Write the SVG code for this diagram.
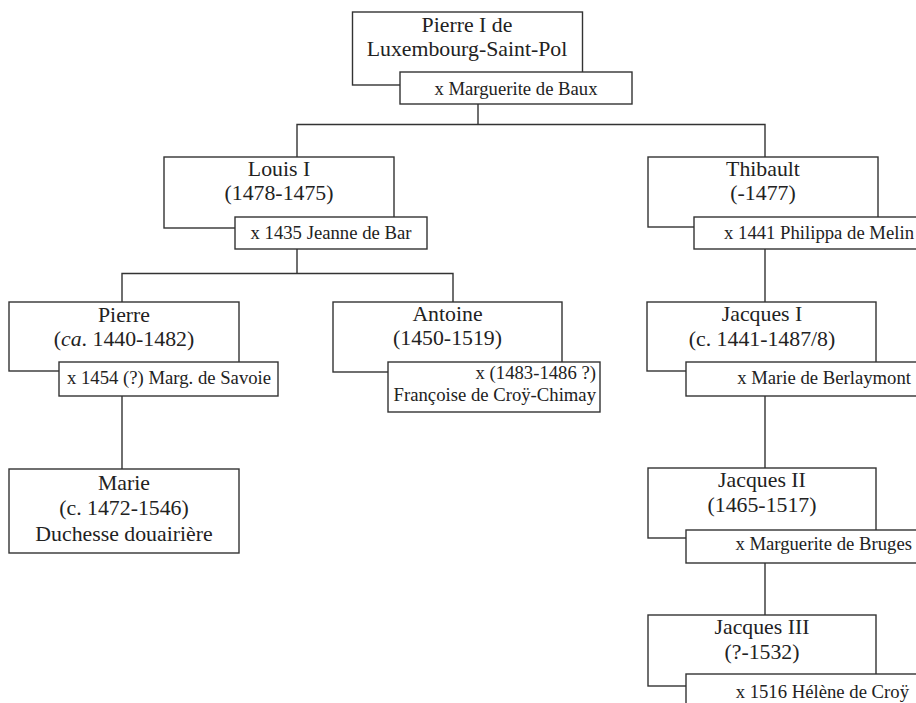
<svg xmlns="http://www.w3.org/2000/svg" width="916" height="703" viewBox="0 0 916 703">
<style>
.box{fill:#fff;stroke:#333;stroke-width:1.4}
.sp{fill:#fff;stroke:#333;stroke-width:1.4}
.ln{fill:none;stroke:#333;stroke-width:1.4}
text{font-family:"Liberation Serif","Times New Roman",serif;fill:#222}
.n{font-size:21.8px;text-anchor:middle}
.s{font-size:18.7px;text-anchor:middle}
.e{font-size:18.7px;text-anchor:end}
</style>
<rect width="916" height="703" fill="#fff"/>
<g id="connectors">
<path class="ln" d="M478,104 V124.5 M297,157 V124.5 H765 V157"/>
<path class="ln" d="M297,249 V273.5 M122,302 V273.5 H453 V302"/>
<path class="ln" d="M765,249 V302"/>
<path class="ln" d="M122,396 V469"/>
<path class="ln" d="M765,396 V468"/>
<path class="ln" d="M765,563 V615"/>
</g>
<g id="pierre1">
<rect class="box" x="352.5" y="12" width="230" height="73"/>
<text class="n" x="467" y="32">Pierre I de</text>
<text class="n" x="467" y="55.5">Luxembourg-Saint-Pol</text>
<rect class="sp" x="400" y="72" width="232" height="32"/>
<text class="s" x="516" y="94.5">x Marguerite de Baux</text>
</g>
<g id="louis1">
<rect class="box" x="164" y="157" width="230" height="71"/>
<text class="n" x="279" y="176">Louis I</text>
<text class="n" x="279" y="200">(1478-1475)</text>
<rect class="sp" x="235" y="217" width="192" height="32"/>
<text class="s" x="331" y="238.5">x 1435 Jeanne de Bar</text>
</g>
<g id="thibault">
<rect class="box" x="648" y="157" width="230" height="70"/>
<text class="n" x="763" y="176">Thibault</text>
<text class="n" x="763" y="200">(-1477)</text>
<rect class="sp" x="694" y="217" width="230" height="32"/>
<text class="e" x="914" y="238.5">x 1441 Philippa de Melin</text>
</g>
<g id="pierre">
<rect class="box" x="9" y="302" width="230" height="69"/>
<text class="n" x="124" y="321.5">Pierre</text>
<text class="n" x="124" y="346">(<tspan font-style="italic">ca</tspan>. 1440-1482)</text>
<rect class="sp" x="59" y="362" width="219" height="34"/>
<text class="s" x="169" y="384">x 1454 (?) Marg. de Savoie</text>
</g>
<g id="antoine">
<rect class="box" x="333" y="302" width="229" height="70"/>
<text class="n" x="447.5" y="321">Antoine</text>
<text class="n" x="447.5" y="345">(1450-1519)</text>
<rect class="sp" x="388" y="362" width="212" height="50"/>
<text class="e" x="596" y="379">x (1483-1486 ?)</text>
<text class="e" x="596" y="401">Françoise de Croÿ-Chimay</text>
</g>
<g id="jacques1">
<rect class="box" x="647" y="302" width="229" height="69"/>
<text class="n" x="762" y="321">Jacques I</text>
<text class="n" x="762" y="346">(c. 1441-1487/8)</text>
<rect class="sp" x="686" y="362" width="238" height="34"/>
<text class="e" x="911" y="383.5">x Marie de Berlaymont</text>
</g>
<g id="marie">
<rect class="box" x="9" y="469" width="230" height="84"/>
<text class="n" x="124" y="490">Marie</text>
<text class="n" x="124" y="515">(c. 1472-1546)</text>
<text class="n" x="124" y="541">Duchesse douairière</text>
</g>
<g id="jacques2">
<rect class="box" x="648" y="468" width="228" height="70"/>
<text class="n" x="762" y="487">Jacques II</text>
<text class="n" x="762" y="511.5">(1465-1517)</text>
<rect class="sp" x="686" y="530" width="238" height="33"/>
<text class="e" x="912" y="550">x Marguerite de Bruges</text>
</g>
<g id="jacques3">
<rect class="box" x="648" y="615" width="228" height="71"/>
<text class="n" x="762" y="634">Jacques III</text>
<text class="n" x="762" y="659">(?-1532)</text>
<rect class="sp" x="686" y="674" width="238" height="40"/>
<text class="e" x="909" y="698">x 1516 Hélène de Croÿ</text>
</g>
</svg>
